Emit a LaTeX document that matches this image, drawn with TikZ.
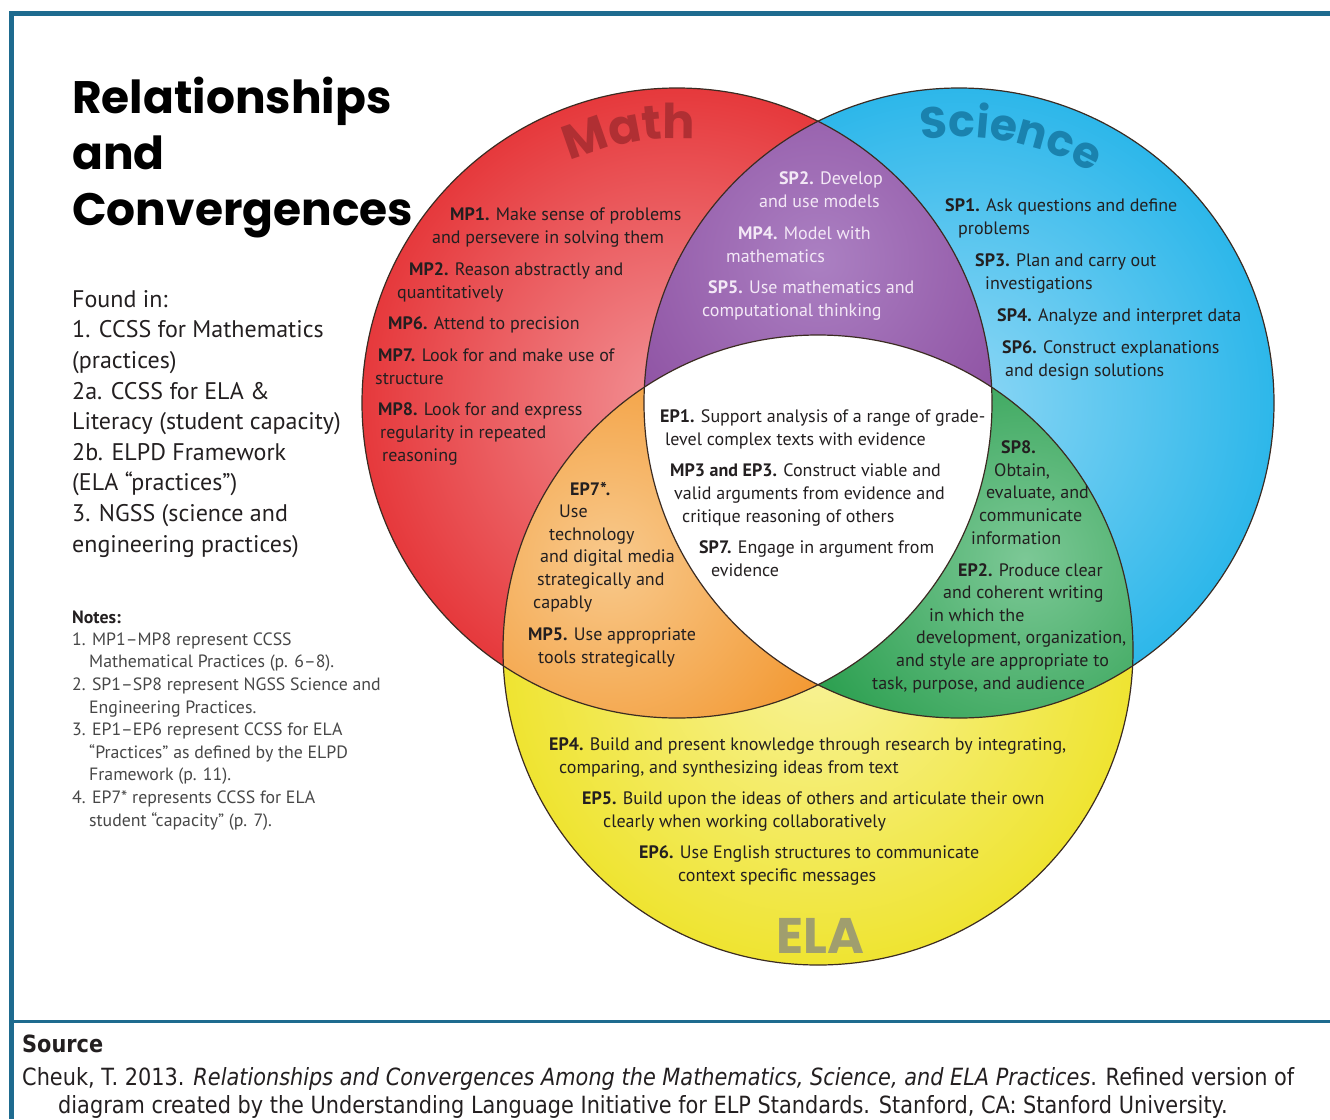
\documentclass[tikz,border=0pt]{standalone}
\usepackage{fontspec}
\setmainfont{PT Sans}
\newfontfamily\titlefont{Poppins}
\newfontfamily\srcfont{DejaVu Sans}[FakeStretch=0.88]
\usetikzlibrary{decorations.text}
\definecolor{frameblue}{HTML}{1E6B8F}
\definecolor{ink}{HTML}{231F20}
\definecolor{noteink}{HTML}{474747}
\definecolor{mathD}{HTML}{E6393C}
\definecolor{mathL}{HTML}{F29397}
\definecolor{sciD}{HTML}{2DB7EA}
\definecolor{sciL}{HTML}{8ED7F5}
\definecolor{elaD}{HTML}{EFE431}
\definecolor{elaL}{HTML}{F8F39C}
\definecolor{purpD}{HTML}{8A4B9E}
\definecolor{purpL}{HTML}{AB80C2}
\definecolor{oranD}{HTML}{F2952C}
\definecolor{oranL}{HTML}{F8C98C}
\definecolor{grenD}{HTML}{259C4A}
\definecolor{grenL}{HTML}{7CC896}
\definecolor{rimc}{HTML}{3B2B22}
\definecolor{lavender}{HTML}{F3E8F6}
\definecolor{mathlbl}{HTML}{B02F33}
\definecolor{scilbl}{HTML}{1A82AE}
\definecolor{elalbl}{HTML}{A09E6E}
% multi-line nodes sit on the baseline of their last line
\tikzset{
  body/.style={anchor=base west, inner sep=0pt, align=left, text=ink,
    font=\fontsize{18}{22.6}\selectfont},
  lavbody/.style={body, text=lavender},
  rim/.style={draw=rimc, line width=1.2pt},
  headtxt/.style={anchor=base west, inner sep=0pt, align=left,
    font=\titlefont\bfseries\fontsize{45.5}{56}\selectfont},
  foundtxt/.style={anchor=base west, inner sep=0pt, align=left, text=ink,
    font=\fontsize{24}{30.6}\selectfont},
  notetxt/.style={anchor=base west, inner sep=0pt, align=left, text=noteink,
    font=\fontsize{17.8}{22.6}\selectfont},
  srctxt/.style={anchor=base west, inner sep=0pt, align=left, text=ink,
    font=\srcfont\fontsize{23.7}{28}\selectfont}
}
\begin{document}
\begin{tikzpicture}[x=1pt,y=1pt]
  \useasboundingbox (0,0) rectangle (1330,-1119);
  % frame
  \fill[frameblue] (10,-11) rectangle (1330,-16);
  \fill[frameblue] (9,-11) rectangle (14,-1119);
  \fill[frameblue] (14,-1020) rectangle (1330,-1023);

  \coordinate (mathc) at (677,-403);
  \coordinate (scic) at (959,-403);
  \coordinate (elac) at (818,-650);
  \def\R{315}

  % the three circles
  \shade[inner color=mathL, outer color=mathD] (mathc) circle[radius=\R];
  \shade[inner color=sciL, outer color=sciD] (scic) circle[radius=\R];
  \shade[inner color=elaL, outer color=elaD] (elac) circle[radius=\R];
  % overlaps
  \begin{scope}
    \clip (mathc) circle[radius=\R];
    \clip (scic) circle[radius=\R];
    \shade[inner color=purpL, outer color=purpD] (818,-260) circle[radius=260];
  \end{scope}
  \begin{scope}
    \clip (mathc) circle[radius=\R];
    \clip (elac) circle[radius=\R];
    \shade[inner color=oranL, outer color=oranD] (610,-560) circle[radius=260];
  \end{scope}
  \begin{scope}
    \clip (scic) circle[radius=\R];
    \clip (elac) circle[radius=\R];
    \shade[inner color=grenL, outer color=grenD] (1025,-560) circle[radius=260];
  \end{scope}
  \begin{scope}
    \clip (mathc) circle[radius=\R];
    \clip (scic) circle[radius=\R];
    \fill[white] (elac) circle[radius=\R];
  \end{scope}
  \draw[rim] (mathc) circle[radius=\R];
  \draw[rim] (scic) circle[radius=\R];
  \draw[rim] (elac) circle[radius=\R];

  % circle names
  \path[decorate, decoration={text along path, text align=center,
      text={|\titlefont\bfseries\fontsize{48}{48}\selectfont\color{mathlbl}|Math}}]
    (mathc) ++(115:264) arc[start angle=115, end angle=85, radius=264];
  \path[decorate, decoration={text along path, text align=center,
      text={|\titlefont\bfseries\fontsize{44}{44}\selectfont\color{scilbl}|Science}}]
    (scic) ++(100:266) arc[start angle=100, end angle=58, radius=266];
  \node[font=\titlefont\bfseries\fontsize{50}{50}\selectfont, text=elalbl,
    anchor=base, inner sep=0pt] (elaname) at (820,-953) {ELA};

  % title and sources
  \node[headtxt] (title) at (72,-225) {Relationships\\and\\Convergences};
  \node[foundtxt] (found) at (72,-552) {Found in:\\1. CCSS for Mathematics\\(practices)\\
    2a. CCSS for ELA \&\\Literacy (student capacity)\\2b. ELPD Framework\\
    (ELA “practices”)\\3. NGSS (science and\\engineering practices)};
  \node[notetxt, text=ink, font=\bfseries\fontsize{17.8}{22.6}\selectfont] (notes) at (72,-623) {Notes:};
  \node[notetxt] (notelist) at (72,-826) {1. MP1–MP8 represent CCSS\\
    \hspace*{17pt}Mathematical Practices (p. 6–8).\\
    2. SP1–SP8 represent NGSS Science and\\
    \hspace*{17pt}Engineering Practices.\\
    3. EP1–EP6 represent CCSS for ELA\\
    \hspace*{17pt}“Practices” as defined by the ELPD\\
    \hspace*{17pt}Framework (p. 11).\\
    4. EP7* represents CCSS for ELA\\
    \hspace*{17pt}student “capacity” (p. 7).};

  % Math only
  \node[body] (mp1) at (432,-243) {\hspace*{18pt}\textbf{MP1.} Make sense of problems\\and persevere in solving them};
  \node[body] (mp2) at (397,-298) {\hspace*{12pt}\textbf{MP2.} Reason abstractly and\\quantitatively};
  \node[body] (mp6) at (388,-329) {\textbf{MP6.} Attend to precision};
  \node[body] (mp7) at (375,-384) {\hspace*{3pt}\textbf{MP7.} Look for and make use of\\structure};
  \node[body] (mp8) at (378,-461) {\textbf{MP8.} Look for and express\\\hspace*{2pt}regularity in repeated\\\hspace*{4pt}reasoning};

  % Math and Science
  \node[lavbody] (sp2) at (759,-207) {\hspace*{20pt}\textbf{SP2.} Develop\\and use models};
  \node[lavbody] (mp4) at (726,-262) {\hspace*{12pt}\textbf{MP4.} Model with\\mathematics};
  \node[lavbody] (sp5) at (702,-316) {\hspace*{6pt}\textbf{SP5.} Use mathematics and\\computational thinking};

  % Science only
  \node[body] (sp1) at (945,-234) {\textbf{SP1.} Ask questions and define\\\hspace*{13pt}problems};
  \node[body] (sp3) at (975,-289) {\textbf{SP3.} Plan and carry out\\\hspace*{10pt}investigations};
  \node[body] (sp4) at (997,-321) {\textbf{SP4.} Analyze and interpret data};
  \node[body] (sp6) at (1002,-376) {\textbf{SP6.} Construct explanations\\\hspace*{3pt}and design solutions};

  % all three
  \node[body] (ep1) at (660,-445) {\textbf{EP1.} Support analysis of a range of grade-\\\hspace*{5pt}level complex texts with evidence};
  \node[body] (mp3) at (670,-522) {\textbf{MP3 and EP3.} Construct viable and\\\hspace*{4pt}valid arguments from evidence and\\\hspace*{12pt}critique reasoning of others};
  \node[body] (sp7) at (699,-576) {\textbf{SP7.} Engage in argument from\\\hspace*{12pt}evidence};

  % Math and ELA
  \node[body] (ep7) at (533,-608) {\hspace*{37pt}\textbf{EP7*.}\\\hspace*{26pt}Use\\\hspace*{16pt}technology\\
    \hspace*{7pt}and digital media\\\hspace*{4pt}strategically and\\capably};
  \node[body] (mp5) at (528,-663) {\textbf{MP5.} Use appropriate\\\hspace*{10pt}tools strategically};

  % Science and ELA
  \node[body] (sp8) at (971,-544) {\hspace*{30pt}\textbf{SP8.}\\\hspace*{23pt}Obtain,\\\hspace*{15pt}evaluate, and\\
    \hspace*{8pt}communicate\\information};
  \node[body] (ep2) at (872,-689) {\hspace*{86pt}\textbf{EP2.} Produce clear\\\hspace*{71pt}and coherent writing\\
    \hspace*{57pt}in which the\\\hspace*{44pt}development, organization,\\
    \hspace*{24pt}and style are appropriate to\\task, purpose, and audience};

  % ELA only
  \node[body] (ep4) at (549,-773) {\textbf{EP4.} Build and present knowledge through research by integrating,\\
    \hspace*{10pt}comparing, and synthesizing ideas from text};
  \node[body] (ep5) at (582,-827) {\textbf{EP5.} Build upon the ideas of others and articulate their own\\
    \hspace*{21pt}clearly when working collaboratively};
  \node[body] (ep6) at (639,-881) {\textbf{EP6.} Use English structures to communicate\\
    \hspace*{39pt}context specific messages};

  % source
  \node[srctxt, font=\srcfont\bfseries\fontsize{23.7}{28}\selectfont] (srchead) at (22,-1052) {Source};
  \node[srctxt] (srcref) at (22,-1113) {Cheuk, T. 2013. \textit{Relationships and Convergences Among the Mathematics, Science, and ELA Practices}. Refined version of\\
    \hspace*{36pt}diagram created by the Understanding Language Initiative for ELP Standards. Stanford, CA: Stanford University.};
\end{tikzpicture}
\end{document}
